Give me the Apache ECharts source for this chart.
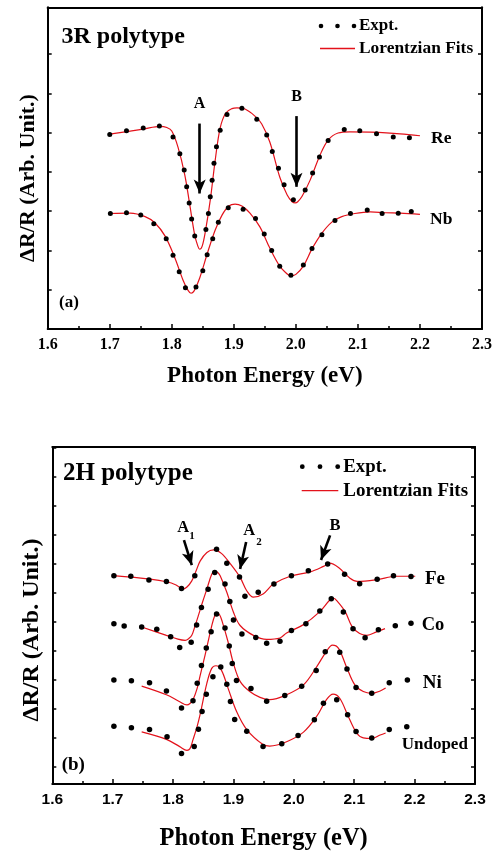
<!DOCTYPE html>
<html>
<head>
<meta charset="utf-8">
<script src="https://cdn.jsdelivr.net/npm/echarts@6/dist/echarts.min.js"></script>
<style>
  html, body { margin: 0; padding: 0; background: #fff; }
  #chart { width: 498px; height: 852px; }
</style>
</head>
<body>
<div id="chart"></div>
<script>
// ---------- (a) 3R polytype: photon energy (eV) vs ΔR/R (arb. units) ----------
const reExpt = [[1.700,4.95],[1.727,5.05],[1.754,5.12],[1.780,5.17],[1.802,4.89],[1.813,4.46],[1.820,4.05],[1.824,3.62],[1.828,3.21],[1.832,2.80],[1.837,2.37],[1.855,2.53],[1.859,2.94],[1.862,3.37],[1.865,3.79],[1.868,4.22],[1.872,4.64],[1.878,5.06],[1.889,5.46],[1.913,5.62],[1.937,5.34],[1.953,4.94],[1.962,4.52],[1.972,4.09],[1.981,3.67],[1.996,3.29],[2.015,3.54],[2.027,3.97],[2.038,4.38],[2.052,4.80],[2.078,5.08],[2.103,5.05],[2.130,4.97],[2.157,4.89],[2.183,4.87]];
const reFit = [[1.700,4.96],[1.754,5.09],[1.781,5.16],[1.792,5.13],[1.800,5.04],[1.810,4.63],[1.821,3.92],[1.829,3.16],[1.837,2.39],[1.842,2.11],[1.845,2.03],[1.849,2.11],[1.854,2.47],[1.862,3.28],[1.870,4.30],[1.878,5.12],[1.887,5.50],[1.897,5.61],[1.905,5.63],[1.918,5.60],[1.934,5.42],[1.945,5.22],[1.958,4.76],[1.974,3.87],[1.986,3.41],[1.994,3.24],[1.999,3.21],[2.003,3.24],[2.010,3.38],[2.023,3.79],[2.039,4.43],[2.052,4.81],[2.068,4.99],[2.087,5.02],[2.120,5.01],[2.168,4.97],[2.200,4.92]];
const nbExpt = [[1.701,2.94],[1.727,2.96],[1.750,2.90],[1.771,2.68],[1.791,2.30],[1.802,1.88],[1.812,1.46],[1.822,1.05],[1.839,1.07],[1.850,1.48],[1.857,1.89],[1.866,2.30],[1.875,2.72],[1.891,3.09],[1.915,3.05],[1.935,2.81],[1.949,2.42],[1.961,2.00],[1.974,1.60],[1.992,1.37],[2.012,1.63],[2.026,2.05],[2.042,2.40],[2.063,2.76],[2.088,2.94],[2.115,3.03],[2.139,2.94],[2.165,2.95],[2.186,2.99]];
const nbFit = [[1.700,2.94],[1.733,2.95],[1.757,2.86],[1.773,2.70],[1.789,2.37],[1.805,1.81],[1.818,1.25],[1.826,0.99],[1.831,0.91],[1.836,0.97],[1.845,1.30],[1.858,1.96],[1.870,2.52],[1.881,2.90],[1.892,3.13],[1.902,3.18],[1.913,3.13],[1.926,2.95],[1.942,2.60],[1.958,2.06],[1.974,1.60],[1.986,1.40],[1.992,1.35],[2.000,1.39],[2.012,1.60],[2.026,2.04],[2.042,2.44],[2.058,2.72],[2.074,2.86],[2.095,2.94],[2.120,2.98],[2.144,2.96],[2.168,2.95],[2.200,2.92]];
// arrows marking the A and B excitons: [from, to]
const arrows3R = [[[1.845,5.23],[1.845,3.45]], [[2.001,5.42],[2.001,3.62]]];

// ---------- (b) 2H polytype ----------
const feExpt = [[1.702,6.59],[1.730,6.57],[1.760,6.44],[1.789,6.39],[1.814,6.15],[1.836,6.59],[1.872,7.50],[1.889,7.02],[1.910,6.54],[1.919,5.88],[1.941,6.02],[1.967,6.30],[1.996,6.59],[2.024,6.76],[2.056,6.99],[2.084,6.64],[2.109,6.31],[2.138,6.47],[2.165,6.59],[2.194,6.56]];
const feFit = [[1.701,6.59],[1.762,6.47],[1.789,6.38],[1.805,6.27],[1.816,6.13],[1.823,6.20],[1.831,6.41],[1.838,6.75],[1.845,7.10],[1.856,7.39],[1.867,7.48],[1.880,7.36],[1.894,7.02],[1.911,6.53],[1.922,6.07],[1.933,5.85],[1.949,5.96],[1.966,6.30],[1.994,6.57],[2.027,6.72],[2.049,6.91],[2.059,7.02],[2.074,6.87],[2.093,6.50],[2.105,6.39],[2.137,6.45],[2.170,6.57],[2.201,6.57]];
const coExpt = [[1.702,4.93],[1.719,4.85],[1.748,4.82],[1.773,4.74],[1.796,4.48],[1.811,4.11],[1.830,4.29],[1.839,4.89],[1.847,5.49],[1.858,6.12],[1.869,6.70],[1.886,6.30],[1.894,5.70],[1.900,5.06],[1.914,4.58],[1.937,4.46],[1.955,4.26],[1.977,4.33],[1.996,4.70],[2.020,4.93],[2.043,5.37],[2.062,5.79],[2.082,5.34],[2.098,4.76],[2.118,4.45],[2.140,4.72],[2.168,4.86],[2.194,4.95]];
const coFit = [[1.748,4.82],[1.789,4.53],[1.808,4.40],[1.820,4.36],[1.826,4.42],[1.831,4.53],[1.836,4.83],[1.842,5.22],[1.849,5.69],[1.856,6.13],[1.864,6.64],[1.869,6.76],[1.874,6.70],[1.878,6.59],[1.889,6.02],[1.900,5.33],[1.911,4.87],[1.933,4.53],[1.955,4.39],[1.977,4.44],[1.988,4.61],[2.016,4.90],[2.043,5.35],[2.060,5.76],[2.066,5.81],[2.071,5.73],[2.085,5.35],[2.096,4.85],[2.109,4.59],[2.121,4.53],[2.137,4.65],[2.151,4.76]];
const niExpt = [[1.702,2.99],[1.731,2.96],[1.761,2.89],[1.789,2.61],[1.814,2.02],[1.833,2.27],[1.840,2.88],[1.847,3.49],[1.855,4.09],[1.863,4.65],[1.872,5.27],[1.886,4.78],[1.893,4.16],[1.898,3.56],[1.905,2.97],[1.929,2.70],[1.955,2.26],[1.985,2.45],[2.013,2.77],[2.037,3.32],[2.052,3.96],[2.076,3.95],[2.088,3.37],[2.103,2.73],[2.129,2.53],[2.158,2.89],[2.188,2.99]];
const niFit = [[1.748,2.78],[1.789,2.48],[1.811,2.24],[1.823,2.13],[1.828,2.18],[1.833,2.31],[1.840,2.71],[1.845,3.16],[1.853,3.85],[1.858,4.31],[1.864,4.86],[1.869,5.21],[1.873,5.30],[1.877,5.24],[1.881,5.03],[1.891,4.31],[1.900,3.56],[1.911,2.94],[1.927,2.59],[1.944,2.39],[1.960,2.31],[1.988,2.48],[2.016,2.82],[2.038,3.45],[2.054,3.98],[2.064,4.19],[2.074,4.08],[2.087,3.45],[2.101,2.82],[2.115,2.59],[2.129,2.53],[2.143,2.61],[2.152,2.71]];
const undopedExpt = [[1.702,1.39],[1.731,1.34],[1.761,1.28],[1.790,1.03],[1.814,0.45],[1.835,0.69],[1.842,1.29],[1.848,1.90],[1.855,2.50],[1.866,3.10],[1.879,3.44],[1.889,2.84],[1.895,2.25],[1.902,1.63],[1.922,1.22],[1.949,0.69],[1.980,0.79],[2.007,1.07],[2.034,1.62],[2.049,2.19],[2.071,2.31],[2.089,1.79],[2.103,1.21],[2.129,0.99],[2.158,1.28],[2.187,1.38]];
const undopedFit = [[1.748,1.20],[1.789,0.94],[1.811,0.69],[1.823,0.56],[1.828,0.62],[1.833,0.93],[1.840,1.40],[1.845,1.82],[1.856,2.88],[1.864,3.39],[1.871,3.48],[1.880,3.33],[1.891,2.71],[1.905,1.91],[1.922,1.28],[1.949,0.76],[1.960,0.71],[1.988,0.86],[2.016,1.19],[2.038,1.74],[2.054,2.31],[2.065,2.50],[2.076,2.36],[2.090,1.74],[2.104,1.16],[2.115,0.99],[2.129,0.97],[2.143,1.09],[2.152,1.16]];
// arrows marking A1, A2 and B
const arrows2H = [[[1.818,7.82],[1.831,6.95]], [[1.921,7.75],[1.911,6.82]], [[2.060,7.98],[2.045,7.13]]];

// axis ticks
const energyMin = 1.6, energyMax = 2.3, energyStep = 0.1;
const ticks3R = [1, 2, 3, 4, 5, 6, 7];
const ticks2H = [0, 1, 2, 3, 4, 5, 6, 7, 8, 9, 10, 11];

const SERIF = '"Liberation Serif", "Times New Roman", serif';
const SANS = '"Liberation Sans", Arial, sans-serif';
const RED = '#e3121b';
const BLACK = '#000';

const chart = echarts.init(document.getElementById('chart'), null, { renderer: 'canvas' });

function energyAxis(grid, labelFont, labelSize, nameSize, nameGap) {
  return [{
    gridIndex: grid, type: 'value', position: 'bottom',
    min: energyMin, max: energyMax, interval: energyStep,
    axisLine: { show: true, onZero: false, lineStyle: { color: BLACK, width: 2 } },
    axisTick: { show: true, inside: true, length: 5, lineStyle: { color: BLACK, width: 1.5 } },
    minorTick: { show: true, splitNumber: 2, length: 3, lineStyle: { color: BLACK, width: 1.5 } },
    axisLabel: { show: true, margin: 8, color: BLACK, fontFamily: labelFont, fontWeight: 'bold', fontSize: labelSize,
                 formatter: v => v.toFixed(1) },
    splitLine: { show: false },
    name: 'Photon Energy (eV)', nameLocation: 'middle', nameGap: nameGap,
    nameTextStyle: { color: BLACK, fontFamily: SERIF, fontWeight: 'bold', fontSize: nameSize }
  }, {
    gridIndex: grid, type: 'value', position: 'top',
    min: energyMin, max: energyMax, interval: energyStep,
    axisLine: { show: true, onZero: false, lineStyle: { color: BLACK, width: 2 } },
    axisTick: { show: false }, axisLabel: { show: false }, splitLine: { show: false }
  }];
}

function signalAxis(grid, min, max, ticks) {
  return ['left', 'right'].map(pos => ({
    gridIndex: grid, type: 'value', position: pos, min: min, max: max,
    axisLine: { show: true, onZero: false, lineStyle: { color: BLACK, width: 2 } },
    axisTick: { show: true, inside: true, length: 4, customValues: ticks, lineStyle: { color: BLACK, width: 1.5 } },
    axisLabel: { show: false }, splitLine: { show: false }
  }));
}

function exptSeries(data, xi, yi, size) {
  return {
    type: 'scatter', data: data, xAxisIndex: xi, yAxisIndex: yi,
    symbol: 'circle', symbolSize: size, itemStyle: { color: BLACK, opacity: 1 }, silent: true, z: 5
  };
}

function fitSeries(data, xi, yi, arrowList) {
  const s = {
    type: 'line', data: data, xAxisIndex: xi, yAxisIndex: yi,
    smooth: 0.35, showSymbol: false, silent: true, z: 4,
    lineStyle: { color: RED, width: 1.2 }
  };
  if (arrowList) {
    s.markLine = {
      silent: true, animation: false, precision: 3,
      label: { show: false },
      lineStyle: { color: BLACK, width: 2.6, type: 'solid' },
      data: arrowList.map(a => [
        { coord: a[0], symbol: 'none' },
        { coord: a[1], symbol: 'arrow', symbolSize: [9, 14] }
      ])
    };
  }
  return s;
}

function txt(x, y, text, size, align, family, extra) {
  return Object.assign({
    type: 'text', x: x, y: y, silent: true,
    style: {
      text: text, fill: BLACK, font: 'bold ' + size + 'px ' + (family || SERIF),
      align: align || 'left', verticalAlign: 'middle',
      textAlign: align || 'left', textVerticalAlign: 'middle'
    }
  }, extra || {});
}

function dot(cx, cy, r) {
  return { type: 'circle', silent: true, shape: { cx: cx, cy: cy, r: r }, style: { fill: BLACK } };
}

function seg(x1, y1, x2, y2) {
  return { type: 'line', silent: true, shape: { x1: x1, y1: y1, x2: x2, y2: y2 }, style: { stroke: RED, lineWidth: 1.3 } };
}

const ax3R = energyAxis(0, SERIF, 16, 23, 36);
const ax2H = energyAxis(1, SANS, 15.5, 24.5, 42);

const option = {
  animation: false,
  backgroundColor: '#fff',
  grid: [
    { left: 47.7, top: 7.3, width: 434.3, height: 321.7 },
    { left: 52.3, top: 447, width: 422.7, height: 339.5 }
  ],
  xAxis: [ax3R[0], ax3R[1], ax2H[0], ax2H[1]],
  yAxis: signalAxis(0, 0, 8.19, ticks3R).concat(signalAxis(1, -0.6, 11.03, ticks2H)),
  series: [
    fitSeries(reFit, 0, 0, arrows3R),
    fitSeries(nbFit, 0, 0),
    exptSeries(reExpt, 0, 0, 5),
    exptSeries(nbExpt, 0, 0, 5),
    fitSeries(feFit, 2, 2, arrows2H),
    fitSeries(coFit, 2, 2),
    fitSeries(niFit, 2, 2),
    fitSeries(undopedFit, 2, 2),
    exptSeries(feExpt, 2, 2, 5.5),
    exptSeries(coExpt, 2, 2, 5.5),
    exptSeries(niExpt, 2, 2, 5.5),
    exptSeries(undopedExpt, 2, 2, 5.5)
  ],
  graphic: [
    // panel (a)
    txt(61.5, 37, '3R polytype', 24),
    dot(321, 26, 2.3), dot(337.5, 26, 2.3), dot(354, 26, 2.3),
    txt(359, 26, 'Expt.', 17),
    seg(320, 48.5, 355, 48.5),
    txt(359, 48.5, 'Lorentzian Fits', 17.4),
    txt(199.5, 104, 'A', 16, 'center'),
    txt(296.7, 97, 'B', 16, 'center'),
    txt(431, 138, 'Re', 17.5),
    txt(430, 219, 'Nb', 17.5),
    txt(59, 303, '(a)', 17),
    txt(28.5, 178, 'ΔR/R (Arb. Unit.)', 22, 'center', SERIF, { rotation: Math.PI / 2 }),
    // panel (b)
    txt(63, 473.5, '2H polytype', 25),
    dot(302.3, 466.7, 2.4), dot(320, 466.7, 2.4), dot(337.7, 466.7, 2.4),
    txt(343.3, 466.7, 'Expt.', 18.8),
    seg(301.7, 490.7, 338.3, 490.7),
    txt(343.3, 490.7, 'Lorentzian Fits', 19),
    txt(183.3, 527.3, 'A', 16.5, 'center'),
    txt(192, 536.5, '1', 11, 'center'),
    txt(249.3, 531, 'A', 16.5, 'center'),
    txt(259, 541.7, '2', 11, 'center'),
    txt(335, 526, 'B', 16.5, 'center'),
    txt(425, 579.5, 'Fe', 19),
    txt(421.7, 625, 'Co', 18.5),
    txt(422.7, 683.3, 'Ni', 19),
    txt(401.7, 745, 'Undoped', 17),
    txt(61.7, 765, '(b)', 19),
    txt(31.5, 630, 'ΔR/R (Arb. Unit.)', 24, 'center', SERIF, { rotation: Math.PI / 2 })
  ]
};

chart.setOption(option);
</script>
</body>
</html>
